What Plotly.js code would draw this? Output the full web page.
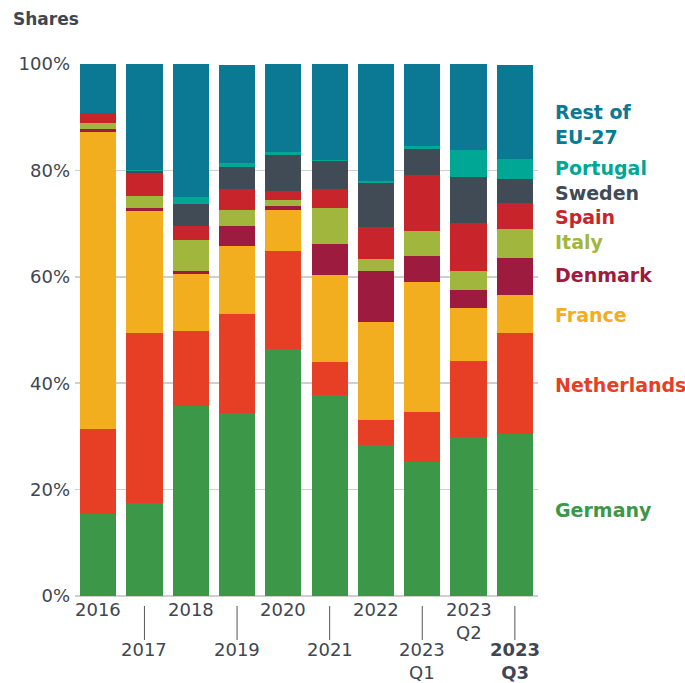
<!DOCTYPE html>
<html>
<head>
<meta charset="utf-8">
<script src="https://cdn.plot.ly/plotly-3.0.1.min.js"></script>
<style>html,body{margin:0;padding:0;background:#fff;}#chart{width:685px;height:683px;}</style>
</head>
<body>
<div id="chart"></div>
<script>
var categories = ["2016","2017","2018","2019","2020","2021","2022","2023 Q1","2023 Q2","2023 Q3"];
var tickLabels = ["2016","2017","2018","2019","2020","2021","2022","2023<br>Q1","2023<br>Q2","<b>2023<br>Q3</b>"];
var germany     = [15.5, 17.4, 35.7, 34.4, 46.4, 37.7, 28.4, 25.2, 29.9, 30.5];
var netherlands = [15.8, 32.0, 14.1, 18.6, 18.4,  6.3,  4.7,  9.4, 14.3, 18.9];
var france      = [55.9, 23.0, 10.7, 12.8,  7.8, 16.3, 18.4, 24.4,  9.9,  7.2];
var denmark     = [ 0.6,  0.5,  0.6,  3.7,  0.7,  5.9,  9.6,  4.9,  3.4,  6.9];
var italy       = [ 1.2,  2.3,  5.8,  3.1,  1.1,  6.7,  2.2,  4.7,  3.6,  5.5];
var spain       = [ 1.8,  4.3,  2.6,  3.9,  1.7,  3.6,  6.1, 10.5,  9.0,  4.9];
var sweden      = [ 0.0,  0.4,  4.2,  4.1,  6.8,  5.3,  8.2,  4.9,  8.7,  4.5];
var portugal    = [ 0.0,  0.1,  1.3,  0.8,  0.6,  0.2,  0.4,  0.6,  5.0,  3.7];
var restEU      = [ 9.2, 20.0, 25.0, 18.4, 16.5, 18.0, 22.0, 15.4, 16.2, 17.7];

var seriesNames = ["Germany","Netherlands","France","Denmark","Italy","Spain","Sweden","Portugal","Rest of EU-27"];
var seriesData = [germany, netherlands, france, denmark, italy, spain, sweden, portugal, restEU];
var colors = ["#3d9748","#e63f26","#f2ae1e","#9c1b3f","#a1b63c","#c7252b","#414b56","#00a794","#0b7894"];

var FONT = "DejaVu Sans, Open Sans, sans-serif";
var TXT = "#3e4751";

var traces = seriesData.map(function(d, i){
  return {type:"bar", x:categories, y:d, name:seriesNames[i], marker:{color:colors[i], line:{width:0}}, hoverinfo:"none"};
});

// plot area pixels
var T = 64, B = 596, H = B - T;
function py(pix){ return (B - pix) / H; }
function px(pix){ return (pix - 75) / 463; }

var annotations = [];
var shapes = [];
categories.forEach(function(c, i){
  var second = (i % 2 === 1);
  annotations.push({xref:"x", yref:"paper", x:i, y: second ? py(638) : py(598), yanchor:"top", xanchor:"center",
    text: tickLabels[i], showarrow:false, align:"center", borderpad:0, font:{family:FONT, size:18, color:TXT}});
  if (second) {
    shapes.push({type:"line", xref:"x", yref:"paper", x0:i, x1:i, y0:py(606), y1:py(640), line:{color:"#555", width:1}});
  }
});

function span(txt, col){ return '<span style="color:' + col + '">' + txt + '</span>'; }
var legFont = {family:FONT, size:19, weight:"bold"};
annotations.push({xref:"paper", yref:"paper", x:px(554), y:py(124), xanchor:"left", yanchor:"middle", borderpad:0,
  text:"Rest of<br>EU-27", showarrow:false, align:"left", font:Object.assign({color:colors[8]}, legFont)});
annotations.push({xref:"paper", yref:"paper", x:px(554), y:py(205), xanchor:"left", yanchor:"middle", borderpad:0,
  text: span(seriesNames[7], colors[7]) + "<br>" + span(seriesNames[6], colors[6]) + "<br>" + span(seriesNames[5], colors[5]) + "<br>" + span(seriesNames[4], colors[4]),
  showarrow:false, align:"left", font:Object.assign({color:colors[4]}, legFont)});
var singles = [[3, 275], [2, 315], [1, 385], [0, 510]];
singles.forEach(function(s){
  annotations.push({xref:"paper", yref:"paper", x:px(554), y:py(s[1]), xanchor:"left", yanchor:"middle", borderpad:0,
    text:seriesNames[s[0]], showarrow:false, align:"left", font:Object.assign({color:colors[s[0]]}, legFont)});
});
annotations.push({xref:"paper", yref:"paper", x:px(12), y:py(19), xanchor:"left", yanchor:"middle", borderpad:0,
  text:"<b>Shares</b>", showarrow:false, font:{family:FONT, size:17, color:TXT}});

var layout = {
  width:685, height:683,
  margin:{l:75, r:147, t:64, b:87},
  barmode:"stack", bargap:0.22,
  paper_bgcolor:"#fff", plot_bgcolor:"#fff",
  showlegend:false,
  xaxis:{type:"category", range:[-0.5, 9.5], showticklabels:false, ticks:"", showgrid:false, zeroline:false, showline:false, fixedrange:true},
  yaxis:{range:[0,100], dtick:20, ticksuffix:"%", showgrid:true, gridcolor:"#cfcfcf", gridwidth:1.5, zeroline:true, zerolinecolor:"#cfcfcf", zerolinewidth:1.5,
    tickfont:{family:FONT, size:18, color:TXT}, ticks:"", ticklabelstandoff:4, fixedrange:true},
  annotations:annotations,
  shapes:shapes
};
Plotly.newPlot("chart", traces, layout, {displayModeBar:false, staticPlot:true});
</script>
</body>
</html>
